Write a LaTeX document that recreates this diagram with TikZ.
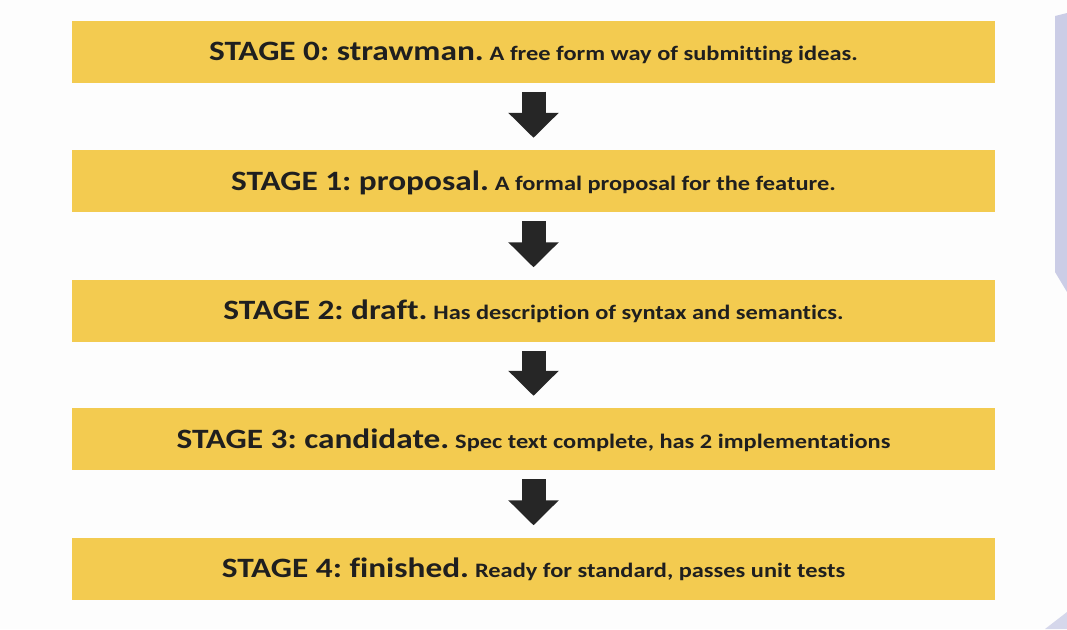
\documentclass[tikz,border=0pt]{standalone}
\usepackage{graphicx}
\usepackage{fontspec}
\setmainfont[Ligatures=NoCommon]{Carlito}
\usetikzlibrary{arrows.meta}
\definecolor{stagefill}{HTML}{F3CB50}
\definecolor{arrowdark}{HTML}{262626}
\definecolor{pagebg}{HTML}{FDFDFD}
\definecolor{sidepanel}{HTML}{CBCDE6}
% stage label: large bold heading followed by a smaller note, set slightly wide
\newcommand{\stageline}[2]{\scalebox{1.19}[1]{\frenchspacing
  {\fontsize{28}{32}\selectfont\bfseries #1}\hspace{5pt}{\fontsize{20.5}{24}\selectfont\bfseries #2}}}
\begin{document}
\begin{tikzpicture}[x=1pt,y=-1pt,
  stagebox/.style={fill=stagefill, draw=none, minimum width=923pt, minimum height=62pt,
    inner sep=0pt, text height=23pt, text depth=5pt, text=black!88, anchor=center},
  downarrow/.style={draw=arrowdark, line width=24pt,
    -{Triangle[width=49pt,length=25pt]}, xshift=-3.5pt}
]
  % page and the edge of the side panels
  \fill[pagebg] (0,0) rectangle (1067,629);
  \fill[sidepanel] (1055,16) -- (1067,13) -- (1067,292) -- (1055,272) -- cycle;
  \fill[sidepanel!80] (1045,629) -- (1067,612) -- (1067,629) -- cycle;
  \useasboundingbox (0,0) rectangle (1067,629);

  % stages
  \node[stagebox] (s0) at (533.5,51.5) {\stageline{STAGE 0: strawman.}{A free form way of submitting ideas.}};
  \node[stagebox] (s1) at (533.5,181) {\stageline{STAGE 1: proposal.}{A formal proposal for the feature.}};
  \node[stagebox] (s2) at (533.5,310.5) {\stageline{STAGE 2: draft.}{Has description of syntax and semantics.}};
  \node[stagebox] (s3) at (533.5,439) {\stageline{STAGE 3: candidate.}{Spec text complete, has 2 implementations}};
  \node[stagebox] (s4) at (533.5,568.5) {\stageline{STAGE 4: finished.}{Ready for standard, passes unit tests}};

  % arrows between stages
  \foreach \a/\b in {s0/s1, s1/s2, s2/s3, s3/s4}
    \draw[downarrow] ([yshift=-9pt]\a.south) -- ([yshift=12pt]\b.north);
\end{tikzpicture}
\end{document}
